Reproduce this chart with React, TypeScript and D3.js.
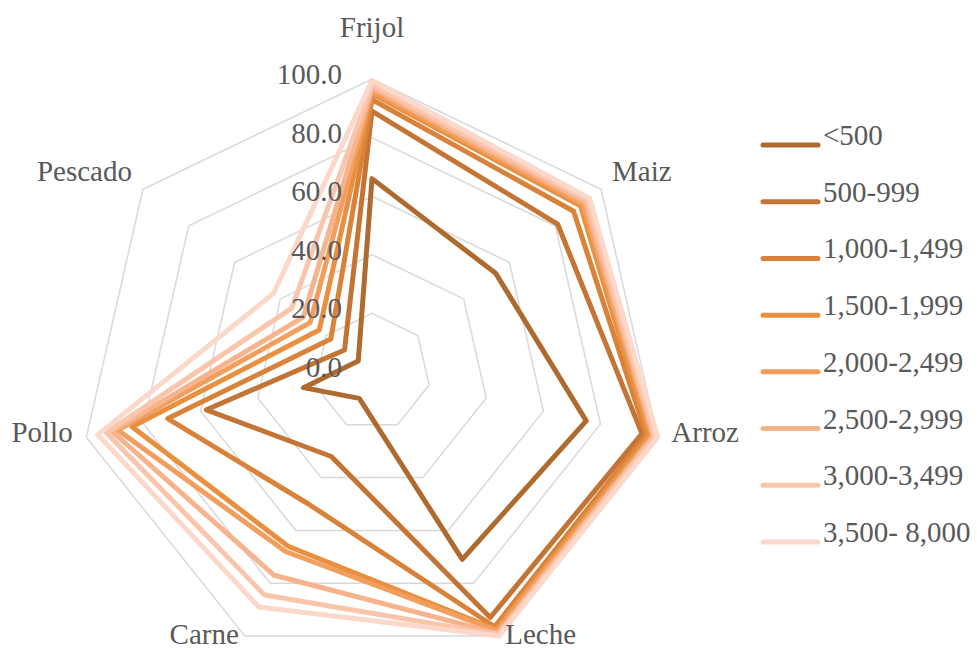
import React from "react";
import * as d3 from "d3";

// Food groups around the radar, clockwise from the top
const categories = ["Frijol", "Maiz", "Arroz", "Leche", "Carne", "Pollo", "Pescado"];

// Income brackets (legend labels)
const seriesNames = [
  "<500",
  "500-999",
  "1,000-1,499",
  "1,500-1,999",
  "2,000-2,499",
  "2,500-2,999",
  "3,000-3,499",
  "3,500- 8,000",
];

// Percentages per income bracket, in category order
const s500 = [66, 54, 75, 71, 10, 24, 6];
const s999 = [89, 81, 94.5, 93, 32, 58, 12];
const s1499 = [93, 88, 96, 96.5, 50, 71.5, 18];
const s1999 = [95, 91, 97, 97.5, 66, 84, 23];
const s2499 = [96, 92, 98, 98, 68, 89, 27];
const s2999 = [97, 93, 98.5, 99, 77, 91, 30];
const s3499 = [98, 94, 99, 99.5, 84.5, 93, 35];
const s8000 = [99.5, 95, 100, 100, 89, 96, 43];

const seriesValues = [s500, s999, s1499, s1999, s2499, s2999, s3499, s8000];

const seriesColors = [
  "#AE6A2F",
  "#C47535",
  "#D9823A",
  "#E8903F",
  "#F19E5E",
  "#F6B38C",
  "#F9C6AC",
  "#FBD8C9",
];

const gridTicks = [20, 40, 60, 80, 100];
const labelTicks = [0, 20, 40, 60, 80, 100];

const W = 977;
const H = 652;
const cx = 372;
const cy = 372;
const R = 293;
const FONT = "'Liberation Serif', 'DejaVu Serif', serif";
const TEXT = "#595959";

export default function App() {
  const n = categories.length;
  const angle = (i: number) => (i * 2 * Math.PI) / n;
  const r = d3.scaleLinear().domain([0, 100]).range([0, R]);

  const polygon = d3
    .lineRadial<number>()
    .angle((_, i) => angle(i))
    .radius((d) => r(d))
    .curve(d3.curveLinearClosed);

  const fmt = d3.format(".1f");

  const legendY = d3
    .scalePoint<string>()
    .domain(seriesNames)
    .range([145, 542]);

  const catLabel = (name: string, i: number) => {
    const a = angle(i);
    const s = Math.sin(a);
    const c = Math.cos(a);
    if (i === 0) {
      return (
        <text key={name} x={cx} y={cy - R - 42} textAnchor="middle">
          {name}
        </text>
      );
    }
    const lr = R + 14;
    const x = cx + s * lr;
    const y = cy - c * lr;
    const anchor = s > 0.1 ? "start" : s < -0.1 ? "end" : "middle";
    const base = Math.min(c > 0 ? y : y + 2, H - 8);
    return (
      <text key={name} x={x} y={base} textAnchor={anchor}>
        {name}
      </text>
    );
  };

  return (
    <svg
      width={W}
      height={H}
      style={{ position: "absolute", left: 0, top: 0, background: "#fff" }}
      fontFamily={FONT}
      fontSize={29}
      fill={TEXT}
    >
      {/* concentric grid polygons */}
      <g transform={`translate(${cx},${cy})`}>
        {gridTicks.map((t) => (
          <path
            key={t}
            d={polygon(categories.map(() => t)) || ""}
            fill="none"
            stroke="#D9D9D9"
            strokeWidth={1.5}
          />
        ))}
      </g>

      {/* one closed outline per income bracket */}
      <g transform={`translate(${cx},${cy})`}>
        {seriesValues.map((vals, si) => (
          <path
            key={seriesNames[si]}
            d={polygon(vals) || ""}
            fill="none"
            stroke={seriesColors[si]}
            strokeWidth={5}
            strokeLinejoin="round"
          />
        ))}
      </g>

      {/* value axis labels */}
      {labelTicks.map((t) => (
        <text key={t} x={cx - 30} y={cy - r(t) + 5} textAnchor="end">
          {fmt(t)}
        </text>
      ))}

      {categories.map((c, i) => catLabel(c, i))}

      {/* legend */}
      {seriesNames.map((name, si) => {
        const y = legendY(name) as number;
        return (
          <g key={name}>
            <line
              x1={763}
              x2={818}
              y1={y}
              y2={y}
              stroke={seriesColors[si]}
              strokeWidth={5}
              strokeLinecap="round"
            />
            <text x={823} y={y}>
              {name}
            </text>
          </g>
        );
      })}
    </svg>
  );
}
